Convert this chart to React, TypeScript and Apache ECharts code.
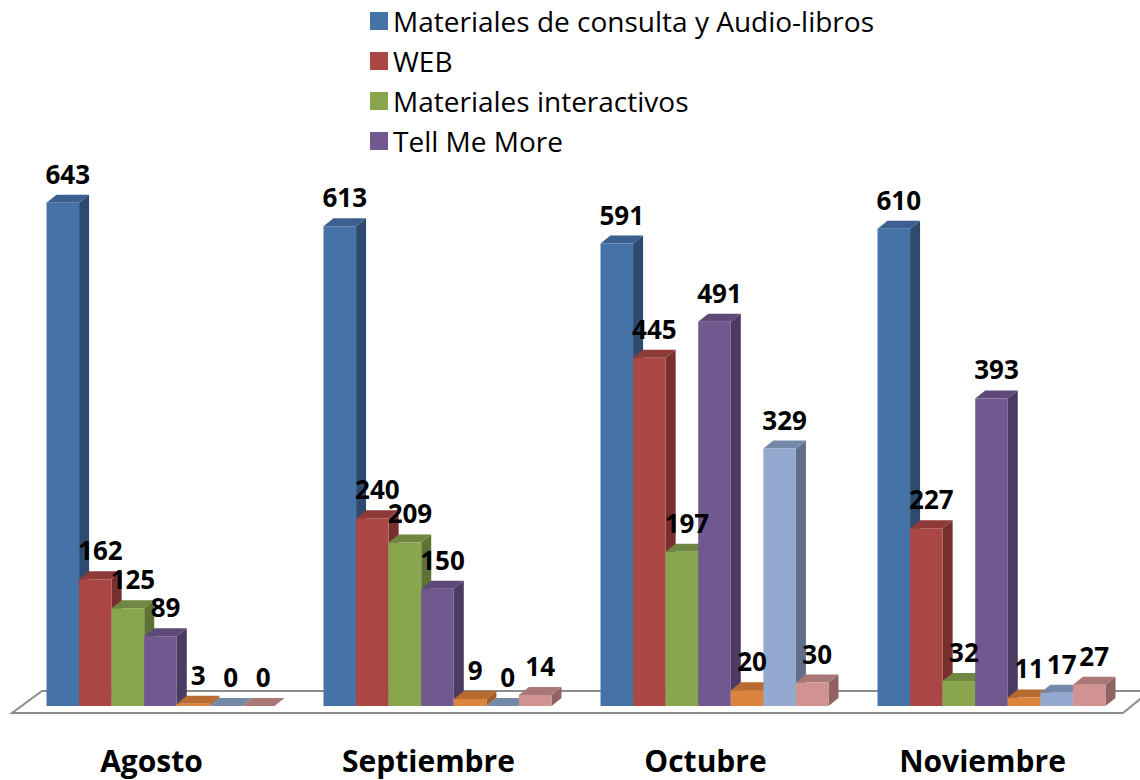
import React, { useEffect, useRef } from "react";
import * as echarts from "echarts";

const categories = ["Agosto", "Septiembre", "Octubre", "Noviembre"];
const seriesNames = [
  "Materiales de consulta y Audio-libros",
  "WEB",
  "Materiales interactivos",
  "Tell Me More",
  "Serie 5",
  "Serie 6",
  "Serie 7",
];
const legendNames = seriesNames.slice(0, 4);

const consulta = [643, 613, 591, 610];
const web = [162, 240, 445, 227];
const interactivos = [125, 209, 197, 32];
const tellMeMore = [89, 150, 491, 393];
const serie5 = [3, 9, 20, 11];
const serie6 = [0, 0, 329, 17];
const serie7 = [0, 14, 30, 27];
const allValues = [consulta, web, interactivos, tellMeMore, serie5, serie6, serie7];

const frontColors = ["#4572A7", "#AA4643", "#89A54E", "#71588F", "#DB843D", "#93A9CF", "#D19392"];
const sideColors = ["#2E4A6E", "#762F2D", "#5E7236", "#4B3A61", "#A05F2A", "#5F6E89", "#916262"];
const topColors = ["#3B6090", "#8E3A38", "#6F8740", "#5E4978", "#B86B30", "#7488AA", "#A87776"];

const FONT = "'Open Sans'";
const GRID_LEFT = 22;
const GRID_RIGHT = 10;
const GRID_BOTTOM_Y = 706;
const DX = 10;
const DY = 8;
const GAP_RATIO = 0.177;

export default function App() {
  const ref = useRef<HTMLDivElement>(null);
  useEffect(() => {
    document.body.style.margin = "0";
    if (!ref.current) return;
    const chart = echarts.init(ref.current, null, { renderer: "svg" });
    const nSeries = allValues.length;

    const series = allValues.map((vals, s) => ({
      type: "custom",
      name: seriesNames[s],
      clip: false,
      itemStyle: { color: frontColors[s] },
      encode: { x: 0, y: 1 },
      data: vals.map((v, i) => [i, v]),
      renderItem: (params: any, api: any) => {
        const cat = api.value(0);
        const v = api.value(1);
        const base = api.coord([cat, 0]);
        const top = api.coord([cat, v]);
        const band = api.size([1, 0])[0];
        const groupW = band * (1 - GAP_RATIO);
        const barW = groupW / nSeries;
        const x0 = base[0] - groupW / 2 + s * barW;
        const x1 = x0 + barW;
        const yT = top[1];
        const yB = base[1];
        return {
          type: "group",
          children: [
            {
              type: "polygon",
              z2: s * 3,
              shape: {
                points: [
                  [x1, yT],
                  [x1 + DX, yT - DY],
                  [x1 + DX, yB - DY],
                  [x1, yB],
                ],
              },
              style: { fill: sideColors[s] },
            },
            {
              type: "polygon",
              z2: s * 3 + 1,
              shape: {
                points: [
                  [x0, yT],
                  [x0 + DX, yT - DY],
                  [x1 + DX, yT - DY],
                  [x1, yT],
                ],
              },
              style: { fill: topColors[s] },
            },
            {
              type: "rect",
              z2: s * 3 + 2,
              shape: { x: x0, y: yT, width: barW, height: Math.max(yB - yT, 0) },
              style: { fill: frontColors[s] },
            },
            {
              type: "text",
              z2: 100,
              x: x0 + barW / 2 + DX / 2,
              y: yT - DY - 21,
              style: {
                text: String(v),
                fill: "#000",
                fontSize: 26,
                fontWeight: "bold",
                fontFamily: FONT,
                align: "center",
                verticalAlign: "middle",
              },
            },
          ],
        };
      },
    }));

    chart.setOption({
      animation: false,
      backgroundColor: "#fff",
      legend: {
        data: legendNames,
        orient: "vertical",
        left: 370,
        top: 7,
        padding: 0,
        icon: "rect",
        itemWidth: 18,
        itemHeight: 18,
        itemGap: 12,
        textStyle: { fontSize: 28, fontFamily: FONT, color: "#000", lineHeight: 26 },
      },
      grid: {
        left: GRID_LEFT,
        right: GRID_RIGHT,
        top: 80,
        bottom: 780 - GRID_BOTTOM_Y,
        containLabel: false,
      },
      xAxis: {
        type: "category",
        data: categories,
        axisLine: { show: false },
        axisTick: { show: false },
        splitLine: { show: false },
        axisLabel: {
          margin: 39,
          fontSize: 30,
          lineHeight: 30,
          fontWeight: "bold",
          fontFamily: FONT,
          color: "#000",
          padding: [0, 18, 0, 0],
        },
      },
      yAxis: {
        type: "value",
        min: 0,
        max: 800,
        show: false,
        splitLine: { show: false },
      },
      graphic: [
        {
          type: "polygon",
          z: 0,
          silent: true,
          shape: {
            points: [
              [12, 713],
              [42, 691],
              [1150, 691],
              [1123, 713],
            ],
          },
          style: { fill: "#fff", stroke: "#8c8c8c", lineWidth: 2 },
        },
      ],
      series,
    });
    return () => chart.dispose();
  }, []);
  return <div ref={ref} style={{ width: 1140, height: 780 }} />;
}
